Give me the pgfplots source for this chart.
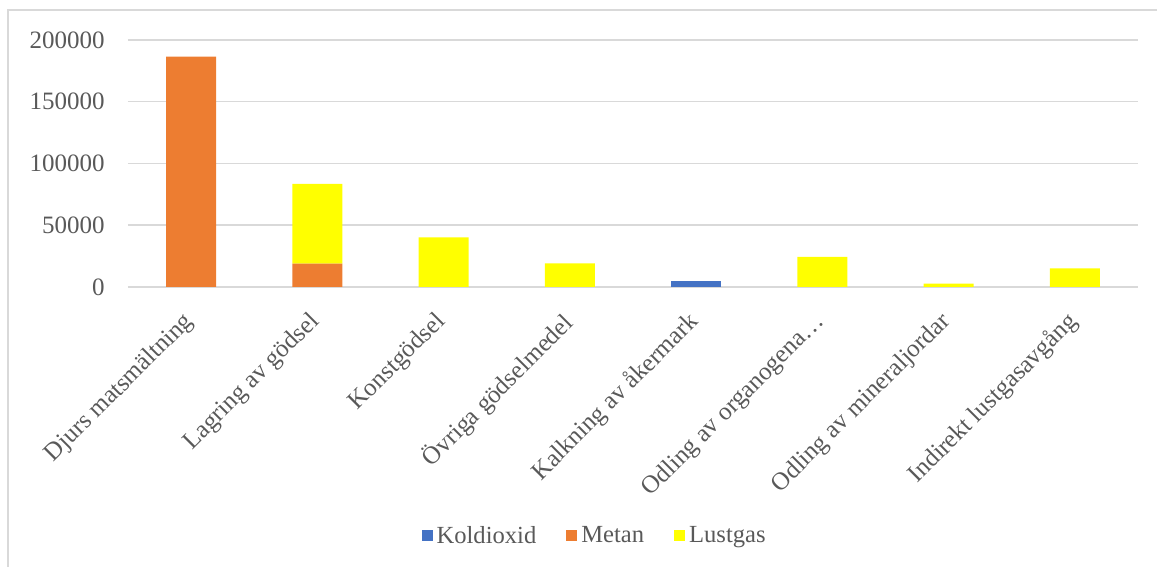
\documentclass[border=0pt]{standalone}
\usepackage{pgfplots}
\pgfplotsset{compat=1.18}
\usepackage{fontspec}
\setmainfont{Liberation Serif}
\definecolor{cblue}{HTML}{4472C4}
\definecolor{corange}{HTML}{ED7D31}
\definecolor{cyellow}{HTML}{FFFF00}
\definecolor{cgrid}{HTML}{D9D9D9}
\definecolor{ctext}{HTML}{595959}
\begin{document}
\begin{tikzpicture}
\useasboundingbox (0,0) rectangle (578.5pt,283.5pt);
\draw[cgrid, line width=0.75pt] (4pt,0) -- (4pt,278.5pt) -- (578.5pt,278.5pt);
\begin{axis}[
  at={(64pt,140pt)}, anchor=south west,
  scale only axis, width=505pt, height=123.5pt,
  ybar stacked, bar width=25pt,
  xmin=-0.5, xmax=7.5, ymin=0, ymax=200000,
  xtick=data,
  xticklabels={Djurs matsmältning, Lagring av gödsel, Konstgödsel, Övriga gödselmedel, Kalkning av åkermark, Odling av organogena\ldots, Odling av mineraljordar, Indirekt lustgasavgång},
  ytick={0,50000,100000,150000,200000},
  scaled y ticks=false,
  /pgf/number format/.cd, fixed, precision=0, 1000 sep={}, assume math mode=true, /pgfplots/.cd,
  axis line style={draw=none},
  major tick length=0pt,
  ymajorgrids, grid style={cgrid, line width=0.75pt},
  tick label style={font=\fontsize{12.5}{15}\selectfont, text=ctext},
  yticklabel style={inner sep=0pt, anchor=east, xshift=-11.5pt},
  xticklabel style={rotate=45, anchor=north east, inner sep=0pt, xshift=-11.4pt, yshift=-4.6pt},
  legend columns=3,
  legend style={draw=none, fill=none, at={(0.463,-1.008)}, anchor=center,
    font=\fontsize{12.3}{14}\selectfont, text=ctext,
    /tikz/every even column/.append style={column sep=13pt}},
  legend image code/.code={\fill[#1] (0pt,-2.75pt) rectangle (5.5pt,2.75pt);},
]
\addplot[fill=cblue, draw=none] coordinates {(0,0) (1,0) (2,0) (3,0) (4,4900) (5,0) (6,0) (7,0)};
\addlegendentry{Koldioxid}
\addplot[fill=corange, draw=none] coordinates {(0,186500) (1,19000) (2,0) (3,0) (4,0) (5,0) (6,0) (7,0)};
\addlegendentry{Metan}
\addplot[fill=cyellow, draw=none] coordinates {(0,0) (1,64500) (2,40200) (3,19200) (4,0) (5,24300) (6,2700) (7,15100)};
\addlegendentry{Lustgas}
\end{axis}
\end{tikzpicture}
\end{document}
